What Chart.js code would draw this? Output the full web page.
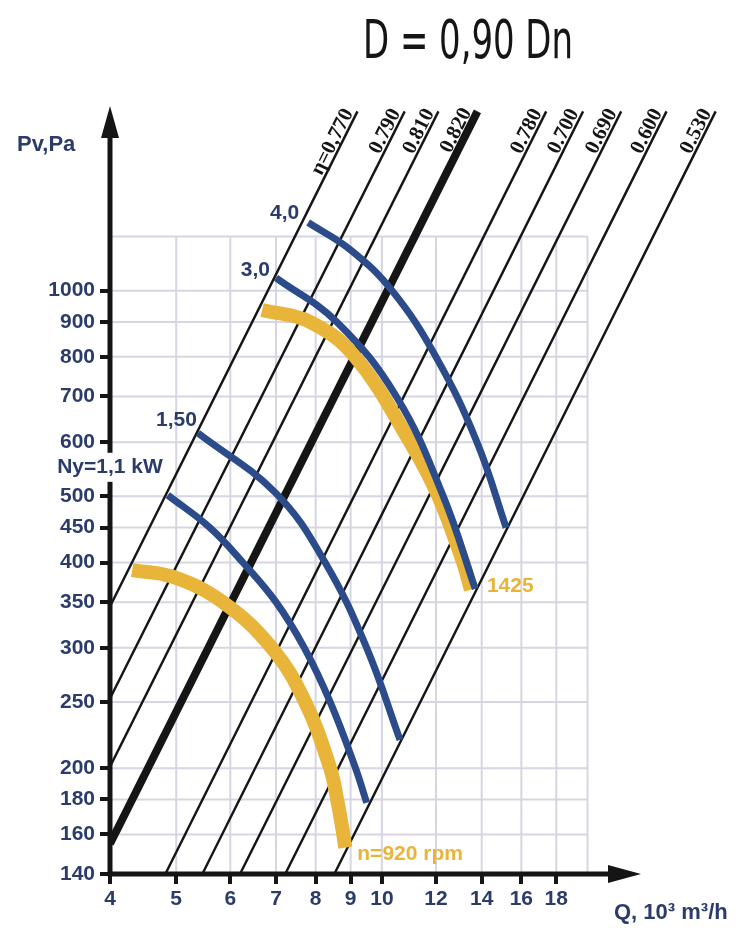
<!DOCTYPE html>
<html>
<head>
<meta charset="utf-8">
<script src="https://cdn.jsdelivr.net/npm/chart.js@4.4.1/dist/chart.umd.min.js"></script>
<style>
  html, body { margin: 0; padding: 0; background: #fff; }
  canvas { display: block; }
</style>
</head>
<body>
<canvas id="fanChart" width="749" height="936"></canvas>
<script>
// axis ticks and grid
const qTicks = [4, 5, 6, 7, 8, 9, 10, 12, 14, 16, 18];
const pvTicks = [140, 160, 180, 200, 250, 300, 350, 400, 450, 500, 600, 700, 800, 900, 1000];
const qGrid = [5, 6, 7, 8, 9, 10, 12, 14, 16, 18, 20];
const pvGrid = [160, 180, 200, 250, 300, 350, 400, 450, 500, 600, 700, 800, 900, 1000, 1200];

// efficiency lines: start and end points [Q, Pv]
const etaNames = ['η=0,770', '0.790', '0.810', '0.820', '0.780', '0.700', '0.690', '0.600', '0.530'];
const etaFrom = [[4, 345], [4, 253], [4, 201], [4, 155], [4.82, 140], [5.46, 140], [6.2, 140], [7.22, 140], [8.52, 140]];
const etaTo = [[9.21, 1830], [10.8, 1830], [12.1, 1830], [13.8, 1830], [17.4, 1830], [19.7, 1830], [22.4, 1830], [26.1, 1830], [30.8, 1830]];

// power curves (Ny, kW)
const pw11Q = [4.86, 5.6, 6.26, 7.0, 7.7, 8.4, 9.15, 9.5];
const pw11P = [502, 450, 400, 350, 300, 250, 200, 178];
const pw15Q = [5.38, 7.0, 8.26, 9.5, 10.63];
const pw15P = [619, 505, 400, 300, 220];
const pw30Q = [7.0, 8.59, 10.5, 12.3, 13.7];
const pw30P = [1044, 900, 700, 500, 366];
const pw40Q = [7.8, 9.0, 10.35, 12.0, 13.78, 15.2];
const pw40P = [1258, 1147, 1000, 800, 600, 450];

// speed curves (rpm)
const rpm920Q = [4.31, 4.95, 5.85, 6.9, 7.72, 8.4, 8.6, 8.78, 8.84];
const rpm920P = [390, 381, 350, 300, 250, 200, 180, 160, 153];
const rpm1425Q = [6.68, 7.85, 9.14, 11.0, 12.1, 13.15, 13.5];
const rpm1425P = [937, 900, 800, 600, 500, 400, 365];

const navy = '#2b3c6b';
const blue = '#2c4b8a';
const yellow = '#e8b53a';
const ink = '#151515';
const tickFont = { family: "'Liberation Sans', Arial, sans-serif", size: 21, weight: 'bold' };

function pts(qs, ps) {
  return qs.map((q, i) => ({ x: q, y: ps[i] }));
}

const etaSets = etaNames.map((name, i) => ({
  label: name,
  data: [{ x: etaFrom[i][0], y: etaFrom[i][1] }, { x: etaTo[i][0], y: etaTo[i][1] }],
  borderColor: ink,
  borderWidth: name === '0.820' ? 8 : 2.4,
  tension: 0,
  order: 3
}));

function curve(label, qs, ps, color, width, order) {
  return {
    label: label,
    data: pts(qs, ps),
    borderColor: color,
    borderWidth: width,
    tension: 0.4,
    order: order
  };
}

const datasets = [
  curve('Ny=1,1 kW', pw11Q, pw11P, blue, 7, 1),
  curve('1,50', pw15Q, pw15P, blue, 7, 1),
  curve('3,0', pw30Q, pw30P, blue, 7, 1),
  curve('4,0', pw40Q, pw40P, blue, 7, 1),
  curve('n=920 rpm', rpm920Q, rpm920P, yellow, 14, 2),
  curve('1425', rpm1425Q, rpm1425P, yellow, 14, 2)
].concat(etaSets);

function text(ctx, str, x, y, align, font, color) {
  ctx.save();
  ctx.font = font;
  ctx.fillStyle = color;
  ctx.textAlign = align;
  ctx.textBaseline = 'middle';
  ctx.fillText(str, x, y);
  ctx.restore();
}

const decor = {
  id: 'decor',
  beforeDatasetsDraw(chart) {
    const ctx = chart.ctx, xs = chart.scales.x, ys = chart.scales.y;
    ctx.save();
    ctx.strokeStyle = '#d6d6e2';
    ctx.lineWidth = 2;
    qGrid.forEach(q => {
      ctx.beginPath();
      ctx.moveTo(xs.getPixelForValue(q), ys.getPixelForValue(140));
      ctx.lineTo(xs.getPixelForValue(q), ys.getPixelForValue(1200));
      ctx.stroke();
    });
    pvGrid.forEach(p => {
      ctx.beginPath();
      ctx.moveTo(xs.getPixelForValue(4), ys.getPixelForValue(p));
      ctx.lineTo(xs.getPixelForValue(20), ys.getPixelForValue(p));
      ctx.stroke();
    });
    ctx.restore();
  },
  afterDatasetsDraw(chart) {
    const ctx = chart.ctx, xs = chart.scales.x, ys = chart.scales.y;
    const px = v => xs.getPixelForValue(v), py = v => ys.getPixelForValue(v);
    const x0 = px(4), y0 = py(140);

    // axes with arrows
    ctx.save();
    ctx.strokeStyle = ink;
    ctx.fillStyle = ink;
    ctx.lineWidth = 5;
    ctx.beginPath();
    ctx.moveTo(x0, y0 + 2.5);
    ctx.lineTo(x0, 135);
    ctx.moveTo(x0 - 2.5, y0);
    ctx.lineTo(612, y0);
    ctx.stroke();
    ctx.beginPath();
    ctx.moveTo(x0, 106);
    ctx.lineTo(x0 - 9, 138);
    ctx.lineTo(x0 + 9, 138);
    ctx.closePath();
    ctx.fill();
    ctx.beginPath();
    ctx.moveTo(641, y0);
    ctx.lineTo(608, y0 - 9);
    ctx.lineTo(608, y0 + 9);
    ctx.closePath();
    ctx.fill();
    ctx.restore();

    // efficiency labels along the lines
    etaNames.forEach((name, i) => {
      const xa = px(etaFrom[i][0]), ya = py(etaFrom[i][1]);
      const xb = px(etaTo[i][0]), yb = py(etaTo[i][1]);
      ctx.save();
      ctx.translate(xb, yb);
      ctx.rotate(Math.atan2(yb - ya, xb - xa));
      ctx.font = "bold 21px 'Liberation Serif', 'DejaVu Serif', serif";
      ctx.fillStyle = ink;
      ctx.textAlign = 'right';
      ctx.textBaseline = 'alphabetic';
      ctx.fillText(name, -3, name === '0.820' ? -5 : -3);
      ctx.restore();
    });

    // curve labels
    const bold = "bold 21px 'Liberation Sans', Arial, sans-serif";
    text(ctx, '4,0', px(pw40Q[0]) - 9, py(pw40P[0]) - 9, 'right', bold, navy);
    text(ctx, '3,0', px(pw30Q[0]) - 6, py(pw30P[0]) - 8, 'right', bold, navy);
    text(ctx, '1,50', px(pw15Q[0]) - 1, py(pw15P[0]) - 13, 'right', bold, navy);

    ctx.save();
    ctx.fillStyle = '#fff';
    ctx.fillRect(x0 - 6, py(579), 12, py(525) - py(579));
    ctx.restore();
    text(ctx, 'Ny=1,1 kW', px(pw11Q[0]) - 5, py(pw11P[0]) - 28, 'right', bold, navy);

    text(ctx, 'n=920 rpm', px(rpm920Q[rpm920Q.length - 1]) + 12, py(rpm920P[rpm920P.length - 1]) + 7, 'left', bold, yellow);
    text(ctx, '1425', px(rpm1425Q[rpm1425Q.length - 1]) + 16, py(rpm1425P[rpm1425P.length - 1]) - 3, 'left', bold, yellow);

    // axis titles
    text(ctx, 'Pv,Pa', 17, 145, 'left', "bold 22px 'Liberation Sans', Arial, sans-serif", navy);
    text(ctx, 'Q, 10³ m³/h', 614, 913, 'left', "bold 22px 'Liberation Sans', Arial, sans-serif", navy);
  },
  afterDraw(chart) {
    const ctx = chart.ctx;
    ctx.save();
    ctx.font = "54px 'Liberation Sans Narrow', 'DejaVu Sans Condensed', 'Open Sans', sans-serif";
    ctx.fillStyle = ink;
    ctx.textBaseline = 'alphabetic';
    const str = 'D = 0,90 Dn';
    const w = ctx.measureText(str).width;
    ctx.translate(363, 58);
    ctx.scale(210 / w, 1);
    ctx.fillText(str, 0, 0);
    ctx.restore();
  }
};

new Chart(document.getElementById('fanChart').getContext('2d'), {
  type: 'scatter',
  data: { datasets: datasets },
  options: {
    responsive: false,
    animation: false,
    showLine: true,
    layout: { padding: { top: 85, right: 22, left: 0, bottom: 0 } },
    elements: { point: { radius: 0, hoverRadius: 0 }, line: { borderCapStyle: 'butt' } },
    plugins: { legend: { display: false }, tooltip: { enabled: false } },
    scales: {
      x: {
        type: 'logarithmic',
        min: 4,
        max: 32,
        afterBuildTicks: s => { s.ticks = qTicks.map(v => ({ value: v })); },
        afterFit: s => { s.height = 62; },
        ticks: { autoSkip: false, maxRotation: 0, padding: 3, color: navy, font: tickFont, callback: v => String(v) },
        grid: { drawOnChartArea: false, drawTicks: true, tickLength: 10, color: ink, lineWidth: 4 },
        border: { display: false }
      },
      y: {
        type: 'logarithmic',
        min: 140,
        max: 2000,
        afterBuildTicks: s => { s.ticks = pvTicks.map(v => ({ value: v })); },
        afterFit: s => { s.width = 110; },
        ticks: { autoSkip: false, padding: 5, color: navy, font: tickFont, callback: v => String(v) },
        grid: { drawOnChartArea: false, drawTicks: true, tickLength: 10, color: ink, lineWidth: 4 },
        border: { display: false }
      }
    }
  },
  plugins: [decor]
});
</script>
</body>
</html>
